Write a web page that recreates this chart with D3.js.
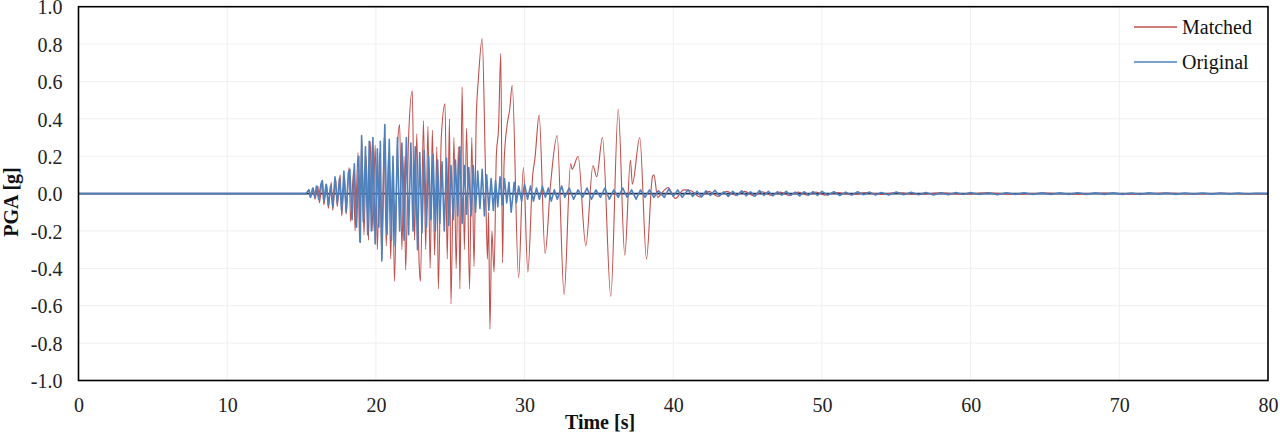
<!DOCTYPE html>
<html><head><meta charset="utf-8">
<script src="https://cdn.jsdelivr.net/npm/d3@7"></script>
<style>
html,body{margin:0;padding:0;background:#fff;}
svg{display:block;font-family:"Liberation Serif","Times New Roman",serif;}
</style></head>
<body>
<svg id="chart" width="1280" height="433"></svg>
<script>
// ---- data ----
const xTicks = [0,10,20,30,40,50,60,70,80];
const yTicks = [-1.0,-0.8,-0.6,-0.4,-0.2,0.0,0.2,0.4,0.6,0.8,1.0];
const seriesNames = ["Matched","Original"];

const matchedTime = [0,15.3,15.5,15.6,15.8,15.9,16.1,16.2,16.4,16.5,16.7,16.8,17.0,17.1,17.3,17.4,17.6,17.7,17.9,18.0,18.2,18.3,18.5,18.6,18.8,18.9,19.05,19.2,19.35,19.5,19.65,19.8,19.95,20.1,20.25,20.4,20.55,20.7,20.85,21.0,21.12,21.25,21.45,21.6,21.75,21.9,22.0,22.2,22.45,22.6,22.75,22.9,23.0,23.2,23.35,23.5,23.65,23.8,23.95,24.1,24.2,24.4,24.65,24.8,24.95,25.05,25.25,25.4,25.55,25.65,25.8,25.95,26.1,26.3,26.45,26.6,26.75,26.9,27.15,27.35,27.5,27.58,27.67,27.8,27.95,28.1,28.25,28.4,28.52,28.62,28.8,29.0,29.17,29.6,29.92,30.22,30.55,30.7,30.98,31.38,31.75,32.19,32.66,33.1,33.2,33.6,34.12,34.6,34.85,35.24,35.8,36.3,36.74,37.12,37.25,37.75,38.2,38.6,38.7,38.95,39.3,39.65,40.15,40.7,41.2,41.8,42.4,43.0,43.6,44.2,44.8,45.4,46.0,46.6,47.2,47.8,48.4,49.0,49.6,50.2,51.0,52.0,53.0,54.0,55.0,56.5,58.0,59.5,61.0,63.0,65.0,67.0,69.0,71.0,73.0,75.0,77.0,79.0,80];
const matchedPGA = [0,0,0.02,-0.02,0.03,-0.03,0.04,-0.05,0.07,-0.06,0.05,-0.08,0.06,-0.09,0.08,-0.07,0.10,-0.12,0.09,-0.11,0.14,-0.15,0.12,-0.20,0.22,-0.26,0.30,-0.22,0.20,-0.25,0.28,-0.20,0.26,-0.30,0.22,-0.35,0.30,-0.28,0.22,-0.35,0.15,-0.47,0.25,0.37,-0.30,0.20,-0.41,0.30,0.55,-0.25,0.32,-0.35,-0.47,0.39,-0.30,0.36,-0.40,0.34,-0.33,0.25,-0.51,0.30,0.48,-0.35,0.40,-0.59,0.30,-0.40,0.25,-0.51,0.57,-0.30,0.35,-0.51,0.30,-0.39,0.40,0.62,0.83,0.20,-0.35,-0.10,-0.725,-0.20,-0.42,0.20,0.35,0.75,-0.37,0.16,0.35,0.45,0.58,-0.45,0.14,-0.42,0.10,0.19,0.42,-0.32,0.05,0.31,-0.54,0.16,0.13,0.20,-0.28,0.15,0.09,0.30,-0.55,0.45,-0.33,0.18,0.05,0.30,-0.35,0.09,0.10,-0.02,0.01,0.033,-0.026,0.02,0.015,-0.018,0.012,-0.015,0.012,-0.01,0.012,-0.012,0.01,-0.01,0.008,-0.01,0.008,-0.008,0.008,-0.008,0.006,-0.006,0.006,-0.005,0.005,-0.005,0.004,-0.004,0.004,-0.004,0.003,-0.003,0.003,-0.003,0.003,-0.002,0.002,-0.002,0];

const originalTime = [0,15.3,15.5,15.6,15.75,15.9,16.0,16.15,16.3,16.4,16.5,16.65,16.8,16.95,17.1,17.25,17.4,17.55,17.7,17.85,18.0,18.15,18.25,18.4,18.55,18.7,18.85,18.95,19.04,19.15,19.3,19.45,19.55,19.7,19.8,19.95,20.1,20.2,20.3,20.4,20.6,20.75,20.9,21.05,21.15,21.3,21.45,21.6,21.75,21.9,22.05,22.2,22.35,22.5,22.65,22.8,22.95,23.1,23.25,23.4,23.55,23.7,23.85,24.0,24.15,24.3,24.45,24.6,24.75,24.9,25.05,25.2,25.35,25.5,25.65,25.8,25.95,26.1,26.25,26.4,26.55,26.7,26.85,27.0,27.15,27.3,27.45,27.6,27.75,27.9,28.05,28.2,28.35,28.5,28.65,28.8,28.95,29.1,29.3,29.45,29.6,29.8,30.0,30.2,30.4,30.6,30.8,31.0,31.2,31.4,31.6,31.8,32.0,32.2,32.5,32.7,33.0,33.3,33.6,33.9,34.2,34.5,34.8,35.1,35.4,35.7,36.0,36.3,36.6,36.9,37.2,37.5,37.8,38.1,38.4,38.7,39.0,39.4,39.7,40.0,40.3,40.6,41.0,41.3,41.6,41.9,42.2,42.5,42.8,43.1,43.4,43.7,44.0,44.3,44.6,44.9,45.2,45.5,45.8,46.1,46.4,46.7,47.0,47.3,47.6,47.9,48.2,48.5,48.8,49.1,49.4,49.7,50.0,50.4,50.8,51.2,51.6,52.0,52.4,52.8,53.2,53.6,54.0,54.5,55.0,55.5,56.0,56.5,57.0,57.5,58.0,58.5,59.0,59.5,60.0,60.6,61.2,61.8,62.4,63.0,63.6,64.2,64.8,65.4,66.0,66.6,67.2,67.8,68.4,69.0,69.6,70.2,70.8,71.4,72.0,72.6,73.2,73.8,74.4,75.0,75.6,76.2,76.8,77.4,78.0,78.6,79.2,80];
const originalPGA = [0,0,0.02,-0.02,0.03,-0.02,0.04,-0.03,0.05,0.07,-0.04,0.05,-0.06,0.04,-0.07,0.09,-0.05,0.08,-0.09,0.12,-0.10,0.11,0.13,-0.14,0.16,-0.18,0.20,-0.26,0.31,-0.15,0.25,-0.22,0.28,-0.20,0.30,-0.27,0.24,-0.18,0.28,-0.36,0.37,-0.22,0.29,-0.25,0.20,-0.28,0.30,-0.20,0.27,-0.25,0.30,-0.22,0.27,-0.20,0.25,-0.30,0.22,-0.21,0.23,-0.18,0.20,-0.14,0.21,-0.20,0.18,-0.16,0.17,-0.20,0.19,-0.17,0.15,-0.14,0.18,-0.12,0.25,-0.16,0.15,-0.11,0.14,-0.12,0.15,-0.10,0.12,-0.08,0.13,-0.12,0.10,-0.09,0.08,-0.09,0.07,-0.07,0.09,-0.06,0.08,-0.05,0.06,-0.10,0.06,-0.05,0.04,-0.04,0.05,-0.03,0.04,-0.04,0.03,-0.03,0.04,-0.02,0.03,-0.04,0.02,-0.03,0.04,-0.02,0.03,-0.03,0.02,-0.02,0.03,-0.03,0.02,-0.02,0.03,-0.03,0.02,-0.02,0.03,-0.02,0.02,-0.03,0.02,-0.02,0.02,-0.02,0.015,-0.02,0.025,-0.015,0.02,-0.02,0.02,-0.015,0.012,-0.018,0.015,-0.01,0.018,-0.012,0.01,-0.015,0.012,-0.01,0.015,-0.012,0.01,-0.014,0.016,-0.01,0.012,-0.012,0.01,-0.008,0.012,-0.01,0.008,-0.012,0.01,-0.008,0.01,-0.01,0.012,-0.008,0.01,-0.01,0.008,-0.008,0.01,-0.006,0.008,-0.008,0.006,-0.007,0.008,-0.006,0.007,-0.006,0.006,-0.007,0.005,-0.006,0.006,-0.005,0.006,-0.005,0.005,-0.006,0.005,-0.004,0.005,-0.005,0.004,-0.005,0.004,-0.004,0.005,-0.004,0.004,-0.004,0.004,-0.004,0.003,-0.004,0.004,-0.003,0.003,-0.004,0.003,-0.003,0.003,-0.003,0.003,-0.003,0.003,-0.002,0.002,0];

// ---- layout ----
const svg = d3.select("#chart");
const L = 78.5, R = 1268, T = 6.7, B = 380.5;
const x = d3.scaleLinear().domain([0,80]).range([L,R]);
const y = d3.scaleLinear().domain([-1,1]).range([B,T]);
const colors = {Matched:"#C0504D", Original:"#4F81BD"};

// gridlines
svg.append("g").selectAll("line").data(yTicks.filter(v=>v!==0 && Math.abs(v)<1)).join("line")
  .attr("x1",L).attr("x2",R).attr("y1",d=>y(d)).attr("y2",d=>y(d))
  .attr("stroke","#efefef").attr("stroke-width",1);
svg.append("g").selectAll("line").data(xTicks.filter(v=>v>0&&v<80)).join("line")
  .attr("y1",T).attr("y2",B).attr("x1",d=>x(d)).attr("x2",d=>x(d))
  .attr("stroke","#efefef").attr("stroke-width",1);

// zero line
svg.append("line").attr("x1",L).attr("x2",R).attr("y1",y(0)).attr("y2",y(0))
  .attr("stroke","#1F2F4F").attr("stroke-width",1.6);

const smooth = d3.line().x(d=>x(d[0])).y(d=>y(d[1])).curve(d3.curveMonotoneX);
const sharp = d3.line().x(d=>x(d[0])).y(d=>y(d[1]));
const matched = matchedTime.map((t,i)=>[t,matchedPGA[i]]);
const original = originalTime.map((t,i)=>[t,originalPGA[i]]);

svg.append("path").datum(matched).attr("d",smooth).attr("fill","none")
  .attr("stroke",colors.Matched).attr("stroke-width",1.1).attr("stroke-linejoin","round");
svg.append("path").datum(original).attr("d",sharp).attr("fill","none")
  .attr("stroke",colors.Original).attr("stroke-width",1.6).attr("stroke-linejoin","round");

// frame
svg.append("rect").attr("x",L).attr("y",T).attr("width",R-L).attr("height",B-T)
  .attr("fill","none").attr("stroke","#000").attr("stroke-width",1.6);

// axes
const xAxis = d3.axisBottom(x).tickValues(xTicks).tickSize(0).tickPadding(0).tickFormat(d3.format("d"));
const gx = svg.append("g").attr("transform",`translate(0,${B})`).call(xAxis);
gx.select(".domain").remove();
gx.selectAll("text").attr("y",31).attr("dy",0).attr("font-size",20)
  .attr("font-family","Liberation Serif, Times New Roman, serif").attr("fill","#222");

const fmt = d3.format(".1f");
const yAxis = d3.axisLeft(y).tickValues(yTicks).tickSize(0).tickPadding(0)
  .tickFormat(d => fmt(d).replace("\u2212","-"));
const gy = svg.append("g").attr("transform",`translate(${L},0)`).call(yAxis);
gy.select(".domain").remove();
gy.selectAll("text").attr("x",-16).attr("dy","0.36em").attr("font-size",20)
  .attr("font-family","Liberation Serif, Times New Roman, serif").attr("fill","#222");

// axis titles
svg.append("text").attr("x",600).attr("y",429).attr("text-anchor","middle")
  .attr("font-size",20).attr("font-weight","bold").attr("fill","#111").text("Time [s]");
svg.append("text").attr("transform","translate(18,202) rotate(-90)").attr("text-anchor","middle")
  .attr("font-size",20).attr("font-weight","bold").attr("fill","#111").text("PGA [g]");

// legend
const leg = svg.append("g");
seriesNames.forEach((n,i)=>{
  const yy = 27 + i*35;
  leg.append("line").attr("x1",1134).attr("x2",1177).attr("y1",yy).attr("y2",yy)
    .attr("stroke",colors[n]).attr("stroke-width",1.4);
  leg.append("text").attr("x",1182).attr("y",yy).attr("dy","0.33em")
    .attr("font-size",20).attr("fill","#111").text(n);
});
</script>
</body></html>
